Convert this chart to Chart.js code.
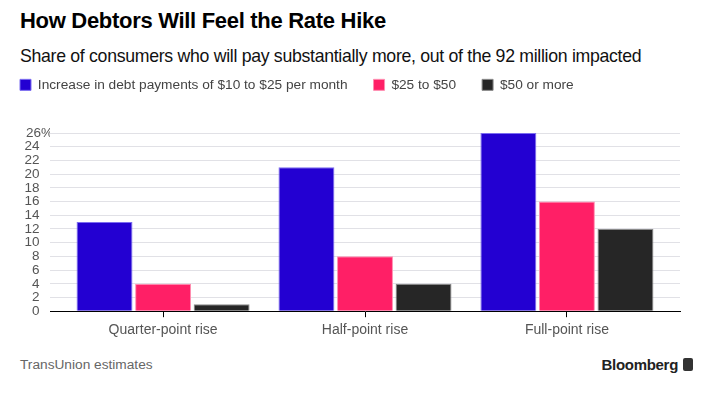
<!DOCTYPE html>
<html>
<head>
<meta charset="utf-8">
<script src="https://cdn.jsdelivr.net/npm/chart.js@4"></script>
<style>
    body { margin: 0; background: #fff; font-family: "Liberation Sans", Arial, sans-serif; }
    #wrap { position: relative; width: 720px; height: 394px; overflow: hidden; }
    .title { position: absolute; left: 20px; top: 8px; font-size: 22px; font-weight: bold; color: #000; letter-spacing: -0.3px; }
    .subtitle { position: absolute; left: 20px; top: 46px; font-size: 17.7px; color: #111; letter-spacing: -0.3px; }
    .source { position: absolute; left: 20px; top: 357px; font-size: 13.7px; color: #666; }
    .brand { position: absolute; right: 42px; top: 356px; font-size: 15px; font-weight: bold; color: #222; letter-spacing: -0.3px; }
    .logo { position: absolute; left: 683px; top: 358px; width: 10px; height: 13px; background: #333; border-radius: 2px; }
    #box { position: absolute; left: 0; top: 52px; width: 720px; height: 292px; }
</style>
</head>
<body>
<div id="wrap">
    <div class="title">How Debtors Will Feel the Rate Hike</div>
    <div class="subtitle">Share of consumers who will pay substantially more, out of the 92 million impacted</div>
    <div id="box"><canvas id="chart"></canvas></div>
    <div class="source">TransUnion estimates</div>
    <div class="brand">Bloomberg</div>
    <div class="logo"></div>
</div>
<script>
const categories = ['Quarter-point rise', 'Half-point rise', 'Full-point rise'];
const seriesNames = ['Increase in debt payments of $10 to $25 per month', '$25 to $50', '$50 or more'];
const low = [13, 21, 26];
const mid = [4, 8, 16];
const high = [1, 4, 12];
const yTicks = [0, 2, 4, 6, 8, 10, 12, 14, 16, 18, 20, 22, 24, 26];

const font = '"Liberation Sans", Arial, sans-serif';

// legend takes a fixed height so the plot starts where the original does
const legendHeight = {
    id: 'legendHeight',
    beforeInit(chart) {
        const fit = chart.legend.fit;
        chart.legend.fit = function () {
            fit.call(this);
            this.height = 81;
        };
    }
};

new Chart(document.getElementById('chart'), {
    type: 'bar',
    data: {
        labels: categories,
        datasets: [{
            label: seriesNames[0],
            data: low,
            backgroundColor: '#2300d2',
            borderColor: '#7b6cf0',
            borderWidth: 1
        }, {
            label: seriesNames[1],
            data: mid,
            backgroundColor: '#ff1f66',
            borderColor: '#ff8db0',
            borderWidth: 1
        }, {
            label: seriesNames[2],
            data: high,
            backgroundColor: '#262626',
            borderColor: '#8a8a8a',
            borderWidth: 1
        }]
    },
    plugins: [legendHeight],
    options: {
        responsive: true,
        maintainAspectRatio: false,
        animation: false,
        layout: {
            padding: {left: -6, right: 40, top: 0, bottom: 0}
        },
        datasets: {
            bar: {
                categoryPercentage: 0.87,
                barPercentage: 0.955
            }
        },
        plugins: {
            legend: {
                position: 'top',
                align: 'start',
                labels: {
                    boxWidth: 11,
                    boxHeight: 11,
                    padding: 26,
                    color: '#444',
                    font: {family: font, size: 13.7}
                }
            },
            tooltip: {enabled: false}
        },
        scales: {
            x: {
                afterBuildTicks: axis => {
                    // a little extra room at both ends of the category axis
                    axis._startValue -= 0.06;
                    axis._valueRange += 0.12;
                },
                grid: {
                    drawOnChartArea: false,
                    drawTicks: true,
                    offset: false,
                    tickLength: 6,
                    tickWidth: 1,
                    tickColor: '#000',
                    color: '#000'
                },
                border: {color: '#000', width: 1},
                ticks: {
                    color: '#555',
                    padding: 5,
                    font: {family: font, size: 14}
                }
            },
            y: {
                min: 0,
                max: 26,
                afterBuildTicks: axis => { axis.ticks = yTicks.map(v => ({value: v})); },
                afterFit: axis => { axis.width = 56; },
                grid: {color: '#e1e1e6', drawTicks: false},
                border: {display: false},
                ticks: {
                    autoSkip: false,
                    padding: -3,
                    color: '#555',
                    font: {family: font, size: 13.5},
                    callback: v => v === 26 ? v + '%' : v + '\u2003'
                }
            }
        }
    }
});
</script>
</body>
</html>
